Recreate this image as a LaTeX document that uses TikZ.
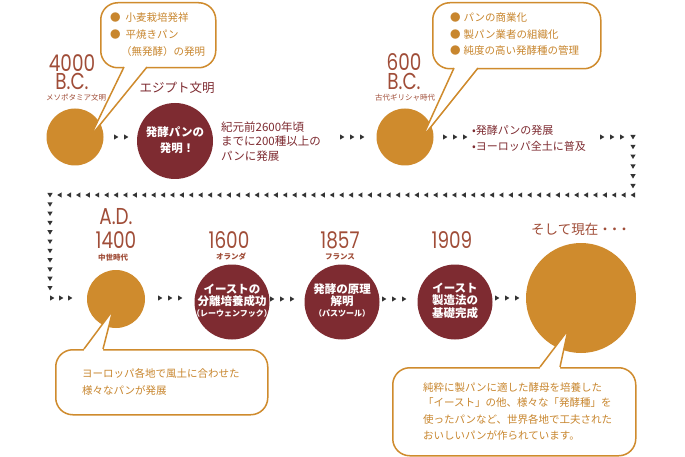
\documentclass[tikz,border=0pt]{standalone}
\usepackage{fontspec}
\setmainfont{Noto Sans CJK JP}
\newfontfamily\yrfont[FakeStretch=0.8]{Poppins}
\definecolor{corange}{HTML}{CF8B2D}
\definecolor{cred}{HTML}{7E2B31}
\definecolor{cyear}{HTML}{A04D38}
\definecolor{ctext}{HTML}{C8862E}
\definecolor{carrow}{HTML}{333333}
\newcommand{\ArR}[1]{\fill[arrowc, shift={(#1)}] (-2,-2.6) -- (2.4,0) -- (-2,2.6) -- cycle;}
\newcommand{\ArL}[1]{\fill[arrowc, shift={(#1)}] (2,-2.6) -- (-2.4,0) -- (2,2.6) -- cycle;}
\newcommand{\ArD}[1]{\fill[arrowc, shift={(#1)}] (-2.6,-2) -- (2.6,-2) -- (0,2.4) -- cycle;}
\tikzset{
 ocirc/.style={circle, fill=corange, inner sep=0},
 rcirc/.style={circle, fill=cred, inner sep=0},
 intxt/.style={text=white, font=\bfseries\fontsize{11.5}{13}\selectfont, inner sep=0},
 insmall/.style={text=white, font=\bfseries\fontsize{8}{9}\selectfont, inner sep=0},
 cbox/.style={draw=corange, line width=1.5pt, fill=white, rounded corners=17pt, inner sep=0},
 year/.style={text=cyear, font=\yrfont\fontsize{23}{23}\selectfont, inner sep=0, anchor=base, text height=16pt, text depth=0pt},
 era/.style={text=cyear, font=\fontsize{7.5}{8}\selectfont, inner sep=0, anchor=base, text height=6.5pt, text depth=0.5pt},
 erab/.style={era, font=\bfseries\fontsize{7.5}{8}\selectfont},
 btxt/.style={text=ctext, font=\fontsize{10.5}{12}\selectfont, anchor=west, inner sep=0},
 rtxt/.style={text=cred, font=\fontsize{11.5}{13}\selectfont, anchor=west, inner sep=0},
 arrowc/.style={fill=carrow},
 tail/.style={draw=corange, line width=1.5pt, line join=miter},
}
\begin{document}
\begin{tikzpicture}[x=1pt,y=-1pt]
\useasboundingbox (0,0) rectangle (685,457);
\fill[white] (0,0) rectangle (685,457);

% ---- circles row 1
\node[ocirc, minimum size=57] (c1) at (75,137) {};
\node[rcirc, minimum size=76] (c2) at (175,141) {};
\node[intxt] (c2a) at (175,132) {発酵パンの};
\node[intxt] (c2b) at (177,148) {発明！};
\node[ocirc, minimum size=57] (c3) at (405,137) {};

% ---- labels row 1
\node[year] (y1a) at (72,72) {4000};
\node[year] (y1b) at (72,90) {B.C.};
\node[era] (e1) at (76,101) {メソポタミア文明};
\node[text=cred, font=\fontsize{12.5}{13}\selectfont, inner sep=0] (e2) at (177,88) {エジプト文明};
\node[year] (y3a) at (404,71) {600};
\node[year] (y3b) at (404,90) {B.C.};
\node[era] (e3) at (405,101) {古代ギリシャ時代};

\node[rtxt] (t2a) at (221,127) {紀元前2600年頃};
\node[rtxt] (t2b) at (221,141) {までに200種以上の};
\node[rtxt] (t2c) at (221,156) {パンに発展};
\node[rtxt, font=\fontsize{11}{13}\selectfont] (t3a) at (472,130) {•発酵パンの発展};
\node[rtxt, font=\fontsize{11}{13}\selectfont] (t3b) at (472,146) {•ヨーロッパ全土に普及};

% ---- circles row 2
\node[ocirc, minimum size=58] (c4) at (116,299) {};
\node[rcirc, minimum size=75] (c5) at (232,302) {};
\node[rcirc, minimum size=75] (c6) at (342,302) {};
\node[rcirc, minimum size=75] (c7) at (455,302) {};
\node[ocirc, minimum size=110] (c8) at (581,298) {};

\node[intxt] (c5a) at (232,289) {イーストの};
\node[intxt] (c5b) at (232,301) {分離培養成功};
\node[insmall] (c5c) at (232,313) {（レーウェンフック）};
\node[intxt] (c6a) at (342,289) {発酵の原理};
\node[intxt] (c6b) at (342,301) {解明};
\node[insmall] (c6c) at (342,313) {（パスツール）};
\node[intxt] (c7a) at (455,288) {イースト};
\node[intxt] (c7b) at (455,300) {製造法の};
\node[intxt] (c7c) at (455,313) {基礎完成};

\node[year] (y4a) at (116,225) {A.D.};
\node[year] (y4b) at (116,248) {1400};
\node[erab] (e4) at (113,260) {中世時代};
\node[year] (y5) at (229,248) {1600};
\node[erab] (e5) at (231,259) {オランダ};
\node[year] (y6) at (340,248) {1857};
\node[erab] (e6) at (340,259) {フランス};
\node[year] (y7) at (452,248) {1909};
\node[text=cyear, font=\fontsize{13.5}{15}\selectfont, inner sep=0] (e8) at (581,229) {そして現在・\hspace{-4pt}・\hspace{-4pt}・};

% ---- arrows
\foreach \x in {116,126} {\ArR{\x,137}}
\foreach \x in {342,352,362} {\ArR{\x,137}}
\foreach \x in {445,455,465} {\ArR{\x,137}}
\foreach \x in {602,612,622} {\ArR{\x,137}}
\foreach \i in {0,...,5} {\pgfmathsetmacro\yy{137+9.8*\i}\ArD{633,\yy}}
\foreach \i in {0,...,61} {\pgfmathsetmacro\xx{633-9.4*\i}\ArL{\xx,195}}
\foreach \i in {0,...,10} {\pgfmathsetmacro\yy{195+9.3*\i}\ArD{50,\yy}}
\foreach \x in {52,61,70} {\ArR{\x,298}}
\foreach \x in {160,170,180} {\ArR{\x,298}}
\foreach \x in {272,282,292} {\ArR{\x,299}}
\foreach \x in {384,394,404} {\ArR{\x,299}}
\foreach \x in {497,507,517} {\ArR{\x,298}}

% ---- callout 1
\node[cbox, minimum width=115, minimum height=65, anchor=north west] (cb1) at (100,2) {};
\coordinate (k1a) at (124,67); \coordinate (k1b) at (147,67); \coordinate (k1t) at (90,137);
\fill[white] (124,64) -- (k1a) -- (k1t) -- (k1b) -- (147,64) -- cycle;
\draw[tail] (k1a) -- (k1t) -- (k1b);
\node[btxt] (b1a) at (110,18) {●\hspace{5pt}小麦栽培発祥};
\node[btxt] (b1b) at (110,35) {●\hspace{5pt}平焼きパン};
\node[btxt] (b1c) at (121,52) {（無発酵）の発明};

% ---- callout 2
\node[cbox, minimum width=168, minimum height=66, anchor=north west] (cb2) at (432,2) {};
\coordinate (k2a) at (454,68); \coordinate (k2b) at (478,68); \coordinate (k2t) at (422,138);
\fill[white] (454,65) -- (k2a) -- (k2t) -- (k2b) -- (478,65) -- cycle;
\draw[tail] (k2a) -- (k2t) -- (k2b);
\node[btxt] (b2a) at (450,18) {●\hspace{3pt}パンの商業化};
\node[btxt] (b2b) at (450,35) {●\hspace{3pt}製パン業者の組織化};
\node[btxt] (b2c) at (450,51) {●\hspace{3pt}純度の高い発酵種の管理};

% ---- callout 3
\node[cbox, minimum width=212, minimum height=65, anchor=north west] (cb3) at (55,349) {};
\coordinate (k3a) at (84,349); \coordinate (k3b) at (103,349); \coordinate (k3t) at (113,310);
\fill[white] (84,352) -- (k3a) -- (k3t) -- (k3b) -- (103,352) -- cycle;
\draw[tail] (k3a) -- (k3t) -- (k3b);
\node[btxt] (b3a) at (82,373) {ヨーロッパ各地で風土に合わせた};
\node[btxt] (b3b) at (82,391) {様々なパンが発展};

% ---- callout 4
\node[cbox, minimum width=243, minimum height=88, anchor=north west] (cb4) at (392,367) {};
\coordinate (k4a) at (540,367); \coordinate (k4b) at (560,367); \coordinate (k4t) at (568,330);
\fill[white] (540,370) -- (k4a) -- (k4t) -- (k4b) -- (560,370) -- cycle;
\draw[tail] (k4a) -- (k4t) -- (k4b);
\node[btxt] (b4a) at (423,388) {純粋に製パンに適した酵母を培養した};
\node[btxt] (b4b) at (423,403) {「イースト」の他、様々な「発酵種」を};
\node[btxt] (b4c) at (423,419) {使ったパンなど、世界各地で工夫された};
\node[btxt] (b4d) at (423,435) {おいしいパンが作られています。};
\end{tikzpicture}
\end{document}
